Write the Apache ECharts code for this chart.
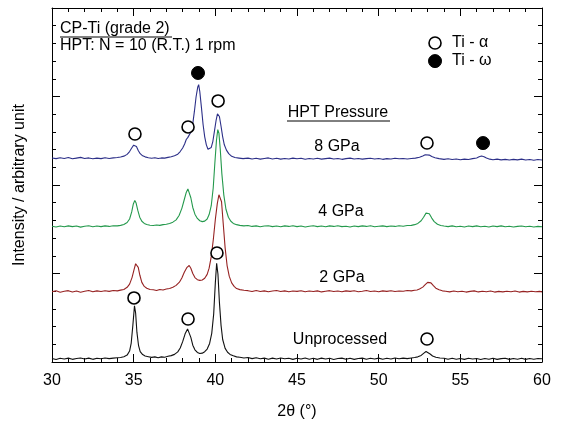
<!DOCTYPE html>
<html>
<head>
<meta charset="utf-8">
<script src="https://cdn.jsdelivr.net/npm/echarts@6/dist/echarts.min.js"></script>
<style>html,body{margin:0;padding:0;background:#fff}#c{width:561px;height:426px}</style>
</head>
<body>
<div id="c"></div>
<script>
// ---- data (2θ in degrees, intensity in arbitrary units, relative to each trace's baseline) ----
var seriesNames = ['Unprocessed', '2 GPa', '4 GPa', '8 GPa'];
var offsets = [0.17, 3.95, 7.63, 11.47];

var unprocessed = [
[30.0,.03],[30.25,-.03],[30.5,.04],[30.75,.0],[31.0,.05],[31.25,-.02],[31.5,.03],[31.75,.06],[32.0,.0],[32.25,.05],[32.5,-.02],[32.75,.04],[33.0,.01],[33.25,.06],[33.5,.02],[33.75,.05],
[34.0,.07],[34.2,.08],[34.4,.13],[34.6,.22],[34.75,.45],[34.85,.9],[34.95,1.9],[35.05,3.0],[35.12,2.6],[35.2,1.5],[35.3,.75],[35.4,.42],[35.55,.25],[35.7,.17],[35.9,.13],
[36.1,.09],[36.3,.12],[36.5,.07],[36.7,.12],[36.9,.1],[37.1,.15],[37.3,.19],[37.5,.26],[37.7,.4],[37.85,.62],[38.0,.98],[38.15,1.42],[38.3,1.7],[38.4,1.62],[38.5,1.22],
[38.62,.78],[38.75,.52],[38.9,.37],[39.05,.31],[39.2,.33],[39.35,.41],[39.5,.56],[39.65,.88],[39.78,1.45],[39.9,2.55],[40.0,4.3],[40.08,5.4],[40.16,4.8],[40.25,3.2],
[40.35,1.9],[40.45,1.1],[40.6,.6],[40.75,.38],[40.9,.26],[41.1,.18],[41.3,.12],[41.5,.1],[41.75,.06],[42.0,.08],[42.25,.02],[42.5,.07],[42.75,.01],[43.0,.05],[43.25,-.01],
[43.5,.05],[43.75,.0],[44.0,.06],[44.25,.01],[44.5,.04],[44.75,-.02],[45.0,.04],[45.25,.0],[45.5,.06],[45.75,-.01],[46.0,.04],[46.25,-.02],[46.5,.05],[46.75,.0],[47.0,.04],
[47.25,-.03],[47.5,.03],[47.75,.05],[48.0,-.01],[48.25,.04],[48.5,-.02],[48.75,.03],[49.0,.05],[49.25,-.01],[49.5,.04],[49.75,.0],[50.0,.05],[50.25,-.01],[50.5,.04],[50.75,.0],
[51.0,.06],[51.25,.01],[51.5,.05],[51.75,.02],[52.0,.06],[52.2,.08],[52.4,.12],[52.6,.2],[52.75,.32],[52.9,.42],[53.0,.38],[53.15,.28],[53.3,.17],[53.5,.1],[53.75,.06],
[54.0,.04],[54.25,-.01],[54.5,.04],[54.75,-.01],[55.0,.03],[55.25,-.02],[55.5,.04],[55.75,.0],[56.0,.03],[56.25,-.03],[56.5,.03],[56.75,-.01],[57.0,.04],[57.25,-.02],
[57.5,.02],[57.75,.04],[58.0,-.02],[58.25,.03],[58.5,-.01],[58.75,.04],[59.0,-.02],[59.25,.03],[59.5,-.01],[59.75,.03],[60.0,.01]
];

var gpa2 = [
[30.0,.02],[30.25,.07],[30.5,-.01],[30.75,.05],[31.0,.08],[31.25,.0],[31.5,.06],[31.75,-.01],[32.0,.05],[32.25,.09],[32.5,.02],[32.75,.07],[33.0,.03],[33.25,.08],[33.5,.04],[33.75,.09],
[34.0,.07],[34.2,.11],[34.4,.15],[34.6,.27],[34.75,.45],[34.9,.82],[35.02,1.25],[35.12,1.6],[35.2,1.65],[35.28,1.4],[35.38,.95],[35.5,.55],[35.65,.32],[35.8,.22],[36.0,.15],
[36.2,.13],[36.4,.09],[36.6,.15],[36.8,.12],[37.0,.17],[37.2,.2],[37.4,.27],[37.6,.38],[37.8,.56],[37.95,.8],[38.1,1.12],[38.25,1.38],[38.4,1.5],[38.5,1.35],[38.62,1.05],
[38.75,.82],[38.9,.7],[39.05,.66],[39.2,.68],[39.35,.78],[39.5,1.0],[39.62,1.35],[39.75,2.0],[39.88,3.0],[40.0,4.1],[40.12,5.0],[40.22,5.5],[40.3,5.6],[40.38,5.1],[40.48,3.9],
[40.6,2.5],[40.72,1.5],[40.85,.9],[41.0,.52],[41.15,.32],[41.3,.2],[41.5,.14],[41.75,.1],[42.0,.08],[42.25,.03],[42.5,.09],[42.75,.03],[43.0,.07],[43.25,.02],[43.5,.06],
[43.75,.09],[44.0,.03],[44.25,.07],[44.5,.02],[44.75,.06],[45.0,.04],[45.25,.08],[45.5,.02],[45.75,.06],[46.0,.03],[46.25,.07],[46.5,.01],[46.75,.05],[47.0,.08],[47.25,.03],
[47.5,.06],[47.75,.02],[48.0,.07],[48.25,.04],[48.5,.08],[48.75,.02],[49.0,.05],[49.25,.09],[49.5,.03],[49.75,.06],[50.0,.02],[50.25,.07],[50.5,.04],[50.75,.08],[51.0,.03],
[51.25,.06],[51.5,.05],[51.75,.09],[52.0,.07],[52.2,.1],[52.35,.12],[52.5,.17],[52.7,.28],[52.85,.42],[53.0,.55],[53.1,.6],[53.2,.52],[53.35,.36],[53.5,.22],[53.7,.13],
[53.9,.07],[54.1,.05],[54.35,.01],[54.6,.06],[54.85,.02],[55.1,.05],[55.35,.0],[55.6,.04],[55.85,.07],[56.1,.01],[56.35,.05],[56.6,.02],[56.85,.06],[57.1,.0],[57.35,.04],
[57.6,.01],[57.85,.05],[58.1,.02],[58.35,.06],[58.6,.0],[58.85,.04],[59.1,.01],[59.35,.05],[59.6,.02],[59.85,.04],[60.0,.01]
];

var gpa4 = [
[30.0,.04],[30.25,.0],[30.5,.05],[30.75,.01],[31.0,.06],[31.25,.02],[31.5,.05],[31.75,-.01],[32.0,.04],[32.25,.07],[32.5,.01],[32.75,.05],[33.0,.02],[33.25,.06],[33.5,.03],[33.75,.07],
[34.0,.06],[34.2,.09],[34.4,.14],[34.6,.25],[34.75,.45],[34.88,.85],[34.98,1.3],[35.07,1.5],[35.15,1.35],[35.25,.95],[35.37,.55],[35.5,.32],[35.65,.2],[35.8,.14],[36.0,.1],
[36.2,.08],[36.4,.11],[36.6,.09],[36.8,.13],[37.0,.15],[37.2,.2],[37.4,.27],[37.6,.4],[37.78,.65],[37.95,1.05],[38.1,1.55],[38.22,1.95],[38.32,2.15],[38.4,2.05],[38.5,1.65],
[38.62,1.1],[38.75,.72],[38.9,.48],[39.05,.35],[39.2,.3],[39.35,.33],[39.5,.45],[39.62,.7],[39.75,1.2],[39.87,2.2],[39.97,3.6],[40.07,4.9],[40.15,5.5],[40.22,5.3],[40.3,4.4],
[40.4,3.0],[40.52,1.8],[40.65,1.0],[40.8,.55],[40.95,.32],[41.1,.2],[41.3,.13],[41.5,.09],[41.75,.06],[42.0,.08],[42.25,.03],[42.5,.06],[42.75,.01],[43.0,.05],[43.25,.07],
[43.5,.02],[43.75,.05],[44.0,.01],[44.25,.06],[44.5,.03],[44.75,.07],[45.0,.02],[45.25,.05],[45.5,.0],[45.75,.04],[46.0,.07],[46.25,.02],[46.5,.05],[46.75,.01],[47.0,.06],
[47.25,.03],[47.5,.07],[47.75,.02],[48.0,.04],[48.25,.0],[48.5,.05],[48.75,.02],[49.0,.06],[49.25,.03],[49.5,.07],[49.75,.01],[50.0,.04],[50.25,.06],[50.5,.02],[50.75,.05],
[51.0,.03],[51.25,.07],[51.5,.04],[51.75,.08],[52.0,.09],[52.2,.13],[52.4,.2],[52.6,.35],[52.75,.55],[52.9,.78],[53.0,.85],[53.1,.75],[53.25,.5],[53.4,.3],[53.6,.15],
[53.8,.08],[54.0,.05],[54.25,.02],[54.5,.06],[54.75,.01],[55.0,.04],[55.25,.0],[55.5,.05],[55.75,.02],[56.0,.06],[56.25,.01],[56.5,.04],[56.75,.0],[57.0,.05],[57.25,.02],
[57.5,.06],[57.75,.01],[58.0,.04],[58.25,.0],[58.5,.03],[58.75,.05],[59.0,.01],[59.25,.04],[59.5,.0],[59.75,.03],[60.0,.01]
];

var gpa8 = [
[30.0,.06],[30.25,.02],[30.5,.07],[30.75,.03],[31.0,.08],[31.25,.01],[31.5,.05],[31.75,.09],[32.0,.03],[32.25,.06],[32.5,.01],[32.75,.05],[33.0,.02],[33.25,.07],[33.5,.03],[33.75,.06],
[34.0,.08],[34.2,.11],[34.4,.16],[34.6,.26],[34.75,.42],[34.88,.62],[35.0,.78],[35.08,.8],[35.17,.7],[35.28,.48],[35.4,.3],[35.55,.18],[35.7,.12],[35.9,.07],[36.1,.04],
[36.3,.07],[36.5,.03],[36.7,.06],[36.9,.05],[37.1,.09],[37.3,.13],[37.5,.18],[37.7,.27],[37.85,.42],[38.0,.62],[38.12,.85],[38.22,1.1],[38.32,1.22],[38.42,1.3],[38.52,1.55],
[38.62,2.0],[38.72,2.7],[38.82,3.5],[38.92,4.05],[38.98,4.2],[39.05,3.8],[39.15,2.9],[39.25,1.95],[39.35,1.25],[39.45,.8],[39.55,.55],[39.65,.5],[39.75,.65],[39.85,1.0],
[39.95,1.6],[40.05,2.2],[40.13,2.55],[40.18,2.6],[40.25,2.4],[40.35,1.85],[40.45,1.25],[40.55,.8],[40.68,.5],[40.82,.3],[41.0,.15],[41.2,.08],[41.45,.05],[41.7,.02],
[42.0,.05],[42.25,.0],[42.5,.04],[42.75,-.01],[43.0,.03],[43.25,.06],[43.5,.0],[43.75,.04],[44.0,-.01],[44.25,.03],[44.5,.0],[44.75,.05],[45.0,.01],[45.25,.04],[45.5,-.02],
[45.75,.03],[46.0,.0],[46.25,.04],[46.5,-.01],[46.75,.02],[47.0,.05],[47.25,.0],[47.5,.03],[47.75,-.02],[48.0,.02],[48.25,.05],[48.5,.0],[48.75,.03],[49.0,-.01],[49.25,.02],
[49.5,.04],[49.75,.0],[50.0,.03],[50.25,-.02],[50.5,.02],[50.75,.0],[51.0,.04],[51.25,.01],[51.5,.03],[51.75,.0],[52.0,.03],[52.25,.05],[52.5,.1],[52.7,.17],[52.85,.24],
[52.97,.27],[53.1,.22],[53.25,.14],[53.45,.07],[53.7,.02],[54.0,-.02],[54.25,.01],[54.5,-.03],[54.75,.0],[55.0,-.04],[55.25,-.01],[55.5,-.03],[55.75,.02],[56.0,.06],
[56.15,.12],[56.3,.17],[56.45,.13],[56.6,.05],[56.8,-.01],[57.0,-.04],[57.25,-.01],[57.5,-.05],[57.75,-.02],[58.0,-.06],[58.25,-.02],[58.5,-.05],[58.75,-.01],[59.0,-.06],
[59.25,-.03],[59.5,-.07],[59.75,-.03],[60.0,-.06]
];

// phase markers (2θ, plotted height)
var alphaMarkers = [[35.02,3.62],[38.33,2.43],[40.1,6.16],[52.96,1.3],[35.08,12.88],[38.33,13.28],[40.17,14.75],[52.96,12.37]];
var omegaMarkers = [[38.94,16.33],[56.39,12.37]];
var legendAlpha = [[53.45,18.02]];
var legendOmega = [[53.45,17.0]];
var legendLabels = ['Ti - α', 'Ti - ω'];

var xTicks = {min: 30, max: 60, interval: 5};
var colors = ['#111111', '#962222', '#24994c', '#2c2f88'];

// ---- chart ----
var FONT = '"Liberation Sans", Arial, Helvetica, sans-serif';
var chart = echarts.init(document.getElementById('c'), null, {renderer: 'canvas'});

function shift(arr, off) { return arr.map(function (p) { return [p[0], p[1] + off]; }); }
var traces = [unprocessed, gpa2, gpa4, gpa8];

var series = traces.map(function (t, i) {
  return {
    type: 'line', name: seriesNames[i], data: shift(t, offsets[i]),
    showSymbol: false, symbol: 'none', smooth: false,
    lineStyle: {color: colors[i], width: 1.1}, z: 2 + i, silent: true
  };
});
series.push({type: 'scatter', data: alphaMarkers.concat(legendAlpha), symbol: 'circle', symbolSize: 12,
  itemStyle: {color: '#fff', borderColor: '#000', borderWidth: 1.6, opacity: 1}, z: 10, silent: true});
series.push({type: 'scatter', data: omegaMarkers.concat(legendOmega), symbol: 'circle', symbolSize: 13,
  itemStyle: {color: '#000', borderColor: '#000', borderWidth: 1, opacity: 1}, z: 10, silent: true});

function xAx(pos, showLabel) {
  return {
    type: 'value', position: pos, min: xTicks.min, max: xTicks.max, interval: xTicks.interval,
    axisLine: {show: true, onZero: false, lineStyle: {color: '#000', width: 1}},
    axisTick: {show: true, inside: true, length: 8, lineStyle: {color: '#000'}},
    minorTick: {show: true, splitNumber: 5, length: 4, lineStyle: {color: '#000'}},
    splitLine: {show: false},
    axisLabel: {show: showLabel, color: '#000', fontSize: 16, fontFamily: FONT, margin: 11},
    name: showLabel ? '2θ (°)' : '', nameLocation: 'middle', nameGap: 42,
    nameTextStyle: {color: '#000', fontSize: 16, fontFamily: FONT}
  };
}
function yAx(pos, showName) {
  return {
    type: 'value', position: pos, min: 0, max: 20, interval: 5,
    axisLine: {show: true, onZero: false, lineStyle: {color: '#000', width: 1}},
    axisTick: {show: true, inside: true, length: 8, lineStyle: {color: '#000'}},
    minorTick: {show: true, splitNumber: 5, length: 4, lineStyle: {color: '#000'}},
    splitLine: {show: false},
    axisLabel: {show: false},
    name: showName ? 'Intensity / arbitrary unit' : '', nameLocation: 'middle', nameGap: 24, nameRotate: 90,
    nameTextStyle: {color: '#000', fontSize: 16, fontFamily: FONT}
  };
}

function txt(s, x, y, align) {
  return {type: 'text', x: x, y: y, z: 20, silent: true,
    style: {text: s, font: '16px ' + FONT, fill: '#000', align: align || 'center', verticalAlign: 'middle'}};
}
function uline(x1, x2, y) {
  return {type: 'line', z: 20, silent: true, shape: {x1: x1, y1: y, x2: x2, y2: y}, style: {stroke: '#000', lineWidth: 1}};
}

chart.setOption({
  animation: false,
  backgroundColor: '#fff',
  grid: {left: 52, right: 19, top: 8, bottom: 64, containLabel: false},
  xAxis: [xAx('bottom', true), xAx('top', false)],
  yAxis: [yAx('left', true), yAx('right', false)],
  series: series,
  graphic: [
    txt('CP-Ti (grade 2)', 60, 29, 'left'),
    uline(60, 172, 37),
    txt('HPT: N = 10 (R.T.) 1 rpm', 60, 46, 'left'),
    txt(legendLabels[0], 452, 43, 'left'),
    txt(legendLabels[1], 452, 61, 'left'),
    txt('HPT Pressure', 338, 113),
    uline(287, 390, 121),
    txt(seriesNames[3], 337, 147),
    txt(seriesNames[2], 341, 212),
    txt(seriesNames[1], 342, 278),
    txt(seriesNames[0], 340, 340)
  ]
});
</script>
</body>
</html>
